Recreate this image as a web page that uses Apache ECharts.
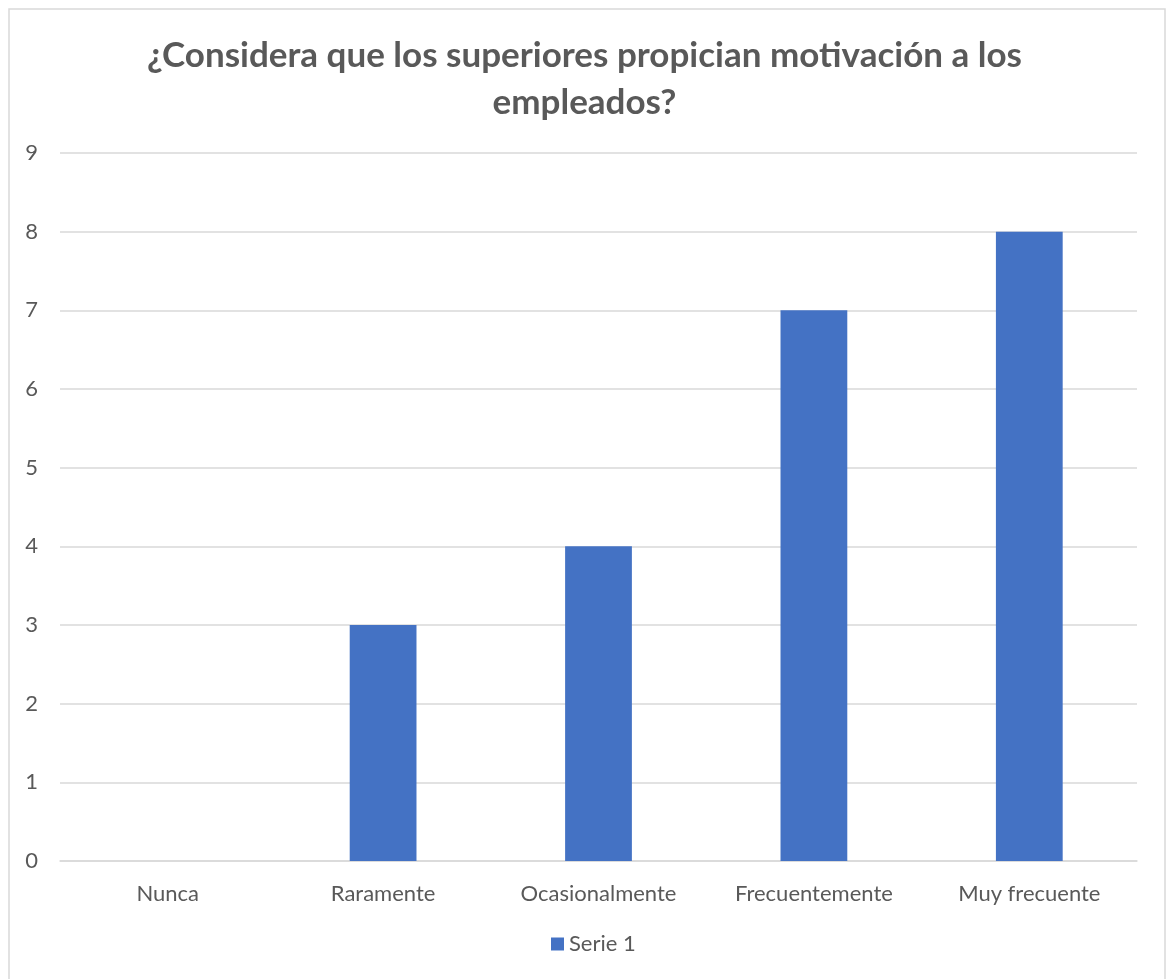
<!DOCTYPE html>
<html>
<head>
<meta charset="utf-8">
<script src="https://cdn.jsdelivr.net/npm/echarts@6/dist/echarts.min.js"></script>
<style>
  html, body { margin: 0; padding: 0; background: #ffffff; }
  #chart { width: 1169px; height: 979px; }
</style>
</head>
<body>
<div id="chart"></div>
<script>
const titleText = '¿Considera que los superiores propician motivación a los\nempleados?';
const categories = ['Nunca', 'Raramente', 'Ocasionalmente', 'Frecuentemente', 'Muy frecuente'];
const seriesName = 'Serie 1';
const values = [0, 3, 4, 7, 8];
const yMin = 0, yMax = 9, yStep = 1;

const textColor = '#595959';
const fontFamily = 'Lato, "Open Sans", sans-serif';

const chart = echarts.init(document.getElementById('chart'), null, { renderer: 'canvas' });
chart.setOption({
  backgroundColor: '#ffffff',
  animation: false,
  graphic: [{
    type: 'rect',
    shape: { x: 9, y: 9, width: 1156, height: 980 },
    style: { fill: 'none', stroke: '#d9d9d9', lineWidth: 1.5 },
    silent: true
  }],
  title: {
    text: titleText,
    left: 'center',
    top: 27,
    textStyle: {
      fontFamily: fontFamily,
      fontWeight: 'bold',
      fontSize: 35,
      color: textColor,
      lineHeight: 47
    }
  },
  legend: {
    bottom: 19,
    left: 546,
    itemWidth: 13,
    itemHeight: 13,
    itemGap: 6,
    icon: 'rect',
    textStyle: { fontFamily: fontFamily, fontSize: 22, color: textColor },
    data: [seriesName]
  },
  grid: { left: 60, right: 32, top: 153, bottom: 118 },
  xAxis: {
    type: 'category',
    data: categories,
    axisLine: { lineStyle: { color: '#d9d9d9', width: 1.5 } },
    axisTick: { show: false },
    axisLabel: { color: textColor, fontFamily: fontFamily, fontSize: 22, margin: 22 }
  },
  yAxis: {
    type: 'value',
    min: yMin,
    max: yMax,
    interval: yStep,
    axisLine: { show: false },
    axisTick: { show: false },
    splitLine: { lineStyle: { color: '#d9d9d9', width: 1.5 } },
    axisLabel: { color: textColor, fontFamily: fontFamily, fontSize: 22, margin: 22 }
  },
  series: [{
    name: seriesName,
    type: 'bar',
    data: values,
    barWidth: '31%',
    itemStyle: { color: '#4472c4' }
  }]
});
</script>
</body>
</html>
